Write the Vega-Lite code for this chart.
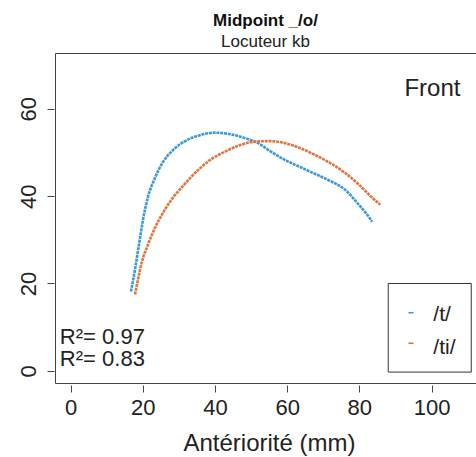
{
  "$schema": "https://vega.github.io/schema/vega-lite/v6.json",
  "width": 421,
  "height": 330,
  "autosize": "none",
  "padding": {"left": 55, "top": 53, "right": 0, "bottom": 74},
  "background": "white",
  "config": {"view": {"stroke": "#444", "strokeWidth": 1}, "font": "Liberation Sans"},
  "title": {"text": "Midpoint _/o/", "subtitle": "Locuteur kb", "fontSize": 17, "fontWeight": "bold", "subtitleFontSize": 17, "subtitlePadding": 4, "offset": 2, "anchor": "middle", "color": "#111", "subtitleColor": "#222", "font": "Liberation Sans", "subtitleFont": "Liberation Sans"},
  "datasets": {
    "curves": [
      {"x": 16.73, "y": 18.18, "group": "/t/"},
      {"x": 17.84, "y": 23.20, "group": "/t/"},
      {"x": 18.95, "y": 28.90, "group": "/t/"},
      {"x": 20.06, "y": 34.60, "group": "/t/"},
      {"x": 21.44, "y": 39.84, "group": "/t/"},
      {"x": 23.38, "y": 44.18, "group": "/t/"},
      {"x": 25.60, "y": 47.82, "group": "/t/"},
      {"x": 28.38, "y": 50.56, "group": "/t/"},
      {"x": 31.70, "y": 52.61, "group": "/t/"},
      {"x": 35.87, "y": 53.98, "group": "/t/"},
      {"x": 40.03, "y": 54.55, "group": "/t/"},
      {"x": 44.19, "y": 54.21, "group": "/t/"},
      {"x": 48.35, "y": 53.30, "group": "/t/"},
      {"x": 51.96, "y": 52.15, "group": "/t/"},
      {"x": 55.28, "y": 50.33, "group": "/t/"},
      {"x": 59.45, "y": 48.28, "group": "/t/"},
      {"x": 63.61, "y": 46.68, "group": "/t/"},
      {"x": 67.77, "y": 45.09, "group": "/t/"},
      {"x": 71.93, "y": 43.49, "group": "/t/"},
      {"x": 76.09, "y": 41.44, "group": "/t/"},
      {"x": 79.42, "y": 38.47, "group": "/t/"},
      {"x": 82.19, "y": 35.74, "group": "/t/"},
      {"x": 83.58, "y": 34.14, "group": "/t/"},
      {"x": 17.84, "y": 17.49, "group": "/ti/"},
      {"x": 18.67, "y": 20.91, "group": "/ti/"},
      {"x": 19.78, "y": 25.02, "group": "/ti/"},
      {"x": 21.44, "y": 28.90, "group": "/ti/"},
      {"x": 23.38, "y": 32.77, "group": "/ti/"},
      {"x": 25.60, "y": 36.19, "group": "/ti/"},
      {"x": 28.10, "y": 39.38, "group": "/ti/"},
      {"x": 31.15, "y": 42.35, "group": "/ti/"},
      {"x": 34.48, "y": 45.31, "group": "/ti/"},
      {"x": 38.64, "y": 48.28, "group": "/ti/"},
      {"x": 43.08, "y": 50.33, "group": "/ti/"},
      {"x": 46.96, "y": 51.70, "group": "/ti/"},
      {"x": 51.12, "y": 52.50, "group": "/ti/"},
      {"x": 55.28, "y": 52.61, "group": "/ti/"},
      {"x": 59.45, "y": 52.15, "group": "/ti/"},
      {"x": 63.61, "y": 51.01, "group": "/ti/"},
      {"x": 67.77, "y": 49.42, "group": "/ti/"},
      {"x": 71.93, "y": 47.59, "group": "/ti/"},
      {"x": 76.09, "y": 45.31, "group": "/ti/"},
      {"x": 79.70, "y": 42.80, "group": "/ti/"},
      {"x": 83.03, "y": 40.06, "group": "/ti/"},
      {"x": 85.80, "y": 38.02, "group": "/ti/"}
    ]
  },
  "layer": [
    {
      "data": {"name": "curves"},
      "mark": {"type": "line", "strokeWidth": 2.6, "interpolate": "monotone", "strokeDash": [3, 0.8]},
      "encoding": {
        "x": {"field": "x", "type": "quantitative",
          "scale": {"domain": [-4.32, 112.32], "nice": false, "zero": false},
          "axis": {"values": [0, 20, 40, 60, 80, 100], "domain": false, "grid": false, "tickSize": 7, "tickColor": "#444", "offset": 2, "labelFontSize": 22, "labelColor": "#222", "labelPadding": 5, "labelFlush": false, "labelOverlap": false, "title": "Antériorité (mm)", "titleFontSize": 24, "titleFontWeight": "normal", "titleColor": "#222", "titleBaseline": "alphabetic", "titleY": 65, "titleX": 214}},
        "y": {"field": "y", "type": "quantitative",
          "scale": {"domain": [-2.8, 72.8], "nice": false, "zero": false},
          "axis": {"values": [0, 20, 40, 60], "domain": false, "grid": false, "tickSize": 7, "tickColor": "#444", "offset": 1, "labelAngle": 270, "labelAlign": "center", "labelBaseline": "alphabetic", "labelPadding": 12, "labelFontSize": 22, "labelColor": "#222", "labelFlush": false, "labelOverlap": false, "title": null}},
        "color": {"field": "group", "type": "nominal", "scale": {"domain": ["/t/", "/ti/"], "range": ["#3a9ad9", "#e0763f"]}, "legend": null}
      }
    },
    {
      "data": {"values": [{}]},
      "mark": {"type": "rect", "fill": "white", "stroke": "#333", "strokeWidth": 1},
      "encoding": {"x": {"datum": 88.0, "type": "quantitative"}, "x2": {"datum": 111.0}, "y": {"datum": 20.0, "type": "quantitative"}, "y2": {"datum": -0.3}}
    },
    {
      "data": {"values": [{}]},
      "mark": {"type": "rule", "color": "#3a9ad9", "strokeWidth": 1.6},
      "encoding": {"x": {"datum": 93.6, "type": "quantitative"}, "x2": {"datum": 95.0}, "y": {"datum": 13.3, "type": "quantitative"}}
    },
    {
      "data": {"values": [{}]},
      "mark": {"type": "rule", "color": "#e0763f", "strokeWidth": 1.6},
      "encoding": {"x": {"datum": 93.6, "type": "quantitative"}, "x2": {"datum": 95.0}, "y": {"datum": 6.3, "type": "quantitative"}}
    },
    {
      "data": {"values": [{}]},
      "mark": {"type": "text", "align": "left", "baseline": "alphabetic", "fontSize": 21, "color": "#222"},
      "encoding": {"x": {"datum": 100.5, "type": "quantitative"}, "y": {"datum": 11.4, "type": "quantitative"}, "text": {"value": "/t/"}}
    },
    {
      "data": {"values": [{}]},
      "mark": {"type": "text", "align": "left", "baseline": "alphabetic", "fontSize": 21, "color": "#222"},
      "encoding": {"x": {"datum": 100.5, "type": "quantitative"}, "y": {"datum": 3.8, "type": "quantitative"}, "text": {"value": "/ti/"}}
    },
    {
      "data": {"values": [{}]},
      "mark": {"type": "text", "align": "right", "baseline": "alphabetic", "fontSize": 24, "color": "#222"},
      "encoding": {"x": {"datum": 108.0, "type": "quantitative"}, "y": {"datum": 62.9, "type": "quantitative"}, "text": {"value": "Front"}}
    },
    {
      "data": {"values": [{}]},
      "mark": {"type": "text", "align": "left", "baseline": "alphabetic", "fontSize": 22, "color": "#222"},
      "encoding": {"x": {"datum": -2.97, "type": "quantitative"}, "y": {"datum": 6.09, "type": "quantitative"}, "text": {"value": "R²= 0.97"}}
    },
    {
      "data": {"values": [{}]},
      "mark": {"type": "text", "align": "left", "baseline": "alphabetic", "fontSize": 22, "color": "#222"},
      "encoding": {"x": {"datum": -2.97, "type": "quantitative"}, "y": {"datum": 1.14, "type": "quantitative"}, "text": {"value": "R²= 0.83"}}
    }
  ]
}
